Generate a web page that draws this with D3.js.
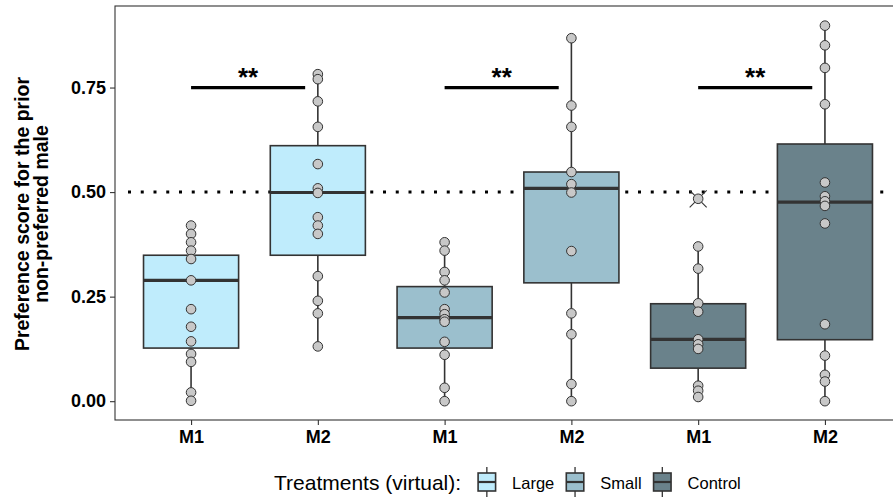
<!DOCTYPE html>
<html><head><meta charset="utf-8">
<script src="https://cdn.jsdelivr.net/npm/d3@7/dist/d3.min.js"></script>
<style>body{margin:0;background:#fff;overflow:hidden}svg{display:block}</style>
</head><body><svg id="c" width="893" height="497"></svg>
<script>
// ---- data ----
const treatments = ["Large", "Small", "Control"];
const males = ["M1", "M2"];
const fills = ["#bfecfc", "#9bbfcd", "#6a828b"];
const categories = ["Large-M1","Large-M2","Small-M1","Small-M2","Control-M1","Control-M2"];
const tickLabels = ["M1","M2","M1","M2","M1","M2"];
const q1 =       [0.127, 0.349, 0.127, 0.283, 0.079, 0.147];
const medians =  [0.289, 0.499, 0.200, 0.509, 0.148, 0.476];
const q3 =       [0.349, 0.611, 0.274, 0.548, 0.233, 0.615];
const whiskLo =  [0.000, 0.131, 0.000, 0.000, 0.010, 0.000];
const whiskHi =  [0.420, 0.782, 0.380, 0.868, 0.370, 0.898];
const outliers = [[], [], [], [], [0.484], []];
const pointsLargeM1 = [0.42, 0.40, 0.38, 0.36, 0.34, 0.289, 0.22, 0.178, 0.143, 0.113, 0.094, 0.021, 0.001];
const pointsLargeM2 = [0.782, 0.770, 0.717, 0.656, 0.567, 0.509, 0.498, 0.440, 0.420, 0.400, 0.299, 0.240, 0.210, 0.131];
const pointsSmallM1 = [0.38, 0.36, 0.309, 0.289, 0.26, 0.22, 0.208, 0.196, 0.19, 0.142, 0.111, 0.032, 0.0];
const pointsSmallM2 = [0.868, 0.707, 0.656, 0.548, 0.519, 0.499, 0.359, 0.21, 0.16, 0.041, 0.0];
const pointsControlM1 = [0.484, 0.37, 0.317, 0.234, 0.214, 0.148, 0.136, 0.125, 0.037, 0.025, 0.01];
const pointsControlM2 = [0.898, 0.851, 0.797, 0.71, 0.523, 0.49, 0.478, 0.467, 0.425, 0.184, 0.109, 0.063, 0.047, 0.0];
const points = [pointsLargeM1, pointsLargeM2, pointsSmallM1, pointsSmallM2, pointsControlM1, pointsControlM2];
const yTicks = [0, 0.25, 0.5, 0.75];
const yTickLabels = ["0.00", "0.25", "0.50", "0.75"];
const refLine = 0.5;
const sigY = 0.75;
const sigLabel = "**";
const yTitle = ["Preference score for the prior", "non-preferred male"];
const legendTitle = "Treatments (virtual):";

// ---- layout ----
const FONT = "'Liberation Sans', Arial, sans-serif";
const svg = d3.select("#c");
const pl = 115, pr = 901, pt = 6, pb = 420;
const x = d3.scalePoint().domain(categories).range([pl, pr]).padding(0.6);
const step = x.step();
const y = d3.scaleLinear().domain([-0.045, 0.945]).range([pb, pt]);
const boxW = step * 0.75;
const ink = "#333333";

svg.append("defs").append("clipPath").attr("id","clip")
  .append("rect").attr("x", pl).attr("y", pt).attr("width", pr - pl).attr("height", pb - pt);

const g = svg.append("g").attr("clip-path", "url(#clip)");

// reference line (dotted)
g.append("line")
  .attr("x1", pl + 13).attr("x2", pr)
  .attr("y1", y(refLine)).attr("y2", y(refLine))
  .attr("stroke", "#000").attr("stroke-width", 3)
  .attr("stroke-dasharray", "3,9.75");

// boxes
categories.forEach((c, i) => {
  const cx = x(c);
  const fill = fills[Math.floor(i / 2)];
  g.append("line").attr("x1", cx).attr("x2", cx).attr("y1", y(q3[i])).attr("y2", y(whiskHi[i]))
    .attr("stroke", ink).attr("stroke-width", 1.6);
  g.append("line").attr("x1", cx).attr("x2", cx).attr("y1", y(q1[i])).attr("y2", y(whiskLo[i]))
    .attr("stroke", ink).attr("stroke-width", 1.6);
  g.append("rect").attr("x", cx - boxW / 2).attr("width", boxW)
    .attr("y", y(q3[i])).attr("height", y(q1[i]) - y(q3[i]))
    .attr("fill", fill).attr("stroke", ink).attr("stroke-width", 1.6);
  g.append("line").attr("x1", cx - boxW / 2).attr("x2", cx + boxW / 2)
    .attr("y1", y(medians[i])).attr("y2", y(medians[i]))
    .attr("stroke", ink).attr("stroke-width", 3.2);
  outliers[i].forEach(v => {
    const s = 8.5;
    g.append("path").attr("d", `M${cx - s},${y(v) - s}L${cx + s},${y(v) + s}M${cx - s},${y(v) + s}L${cx + s},${y(v) - s}`)
      .attr("stroke", ink).attr("stroke-width", 1.1).attr("fill", "none");
  });
});

// points
categories.forEach((c, i) => {
  g.selectAll(null).data(points[i]).enter().append("circle")
    .attr("cx", x(c)).attr("cy", d => y(d)).attr("r", 4.8)
    .attr("fill", "#c8c8c8").attr("stroke", ink).attr("stroke-width", 1);
});

// significance bars
treatments.forEach((t, k) => {
  const x1 = x(categories[2 * k]);
  const x2 = x1 + step * 0.9;
  g.append("line").attr("x1", x1).attr("x2", x2).attr("y1", y(sigY)).attr("y2", y(sigY))
    .attr("stroke", "#000").attr("stroke-width", 3.2);
  g.append("text").attr("x", (x1 + x2) / 2).attr("y", y(sigY) - 2)
    .attr("text-anchor", "middle").attr("font-family", FONT).attr("font-weight", "bold")
    .attr("font-size", 26).attr("fill", "#000").text(sigLabel);
});

// panel border
svg.append("rect").attr("x", pl).attr("y", pt).attr("width", pr - pl).attr("height", pb - pt)
  .attr("fill", "none").attr("stroke", ink).attr("stroke-width", 1.1);

// y axis
const yAxis = svg.append("g").attr("transform", `translate(${pl},0)`)
  .call(d3.axisLeft(y).tickValues(yTicks).tickFormat((d, i) => yTickLabels[i]).tickSize(5).tickPadding(4));
yAxis.select(".domain").remove();
yAxis.selectAll(".tick line").attr("stroke", ink).attr("stroke-width", 1.1);
yAxis.selectAll(".tick text").attr("font-family", FONT).attr("font-weight", "bold")
  .attr("font-size", 18).attr("fill", "#000");

// x axis
const xAxis = svg.append("g").attr("transform", `translate(0,${pb})`)
  .call(d3.axisBottom(x).tickFormat((d, i) => tickLabels[i]).tickSize(5).tickPadding(5));
xAxis.select(".domain").remove();
xAxis.selectAll(".tick line").attr("stroke", ink).attr("stroke-width", 1.1);
xAxis.selectAll(".tick text").attr("font-family", FONT).attr("font-weight", "bold")
  .attr("font-size", 18).attr("fill", "#000");

// y title
const ty = svg.append("text").attr("transform", `translate(29,${(pt + pb) / 2 + 1}) rotate(-90)`)
  .attr("text-anchor", "middle").attr("font-family", FONT).attr("font-weight", "bold")
  .attr("font-size", 19.5).attr("fill", "#000");
yTitle.forEach((l, i) => ty.append("tspan").attr("x", 0).attr("dy", i === 0 ? 0 : 18.5).text(l));

// legend
const lg = svg.append("g").attr("font-family", FONT).attr("fill", "#000");
const base = 490;
const titleEl = lg.append("text").attr("x", 274).attr("y", base).attr("font-size", 21).text(legendTitle);
let cursor = 274 + titleEl.node().getComputedTextLength() + 17;
treatments.forEach((t, k) => {
  const kw = 17.5, cx = cursor + kw / 2;
  lg.append("line").attr("x1", cx).attr("x2", cx).attr("y1", 467).attr("y2", 497).attr("stroke", ink).attr("stroke-width", 1.3);
  lg.append("rect").attr("x", cursor).attr("y", 473).attr("width", kw).attr("height", 18)
    .attr("fill", fills[k]).attr("stroke", ink).attr("stroke-width", 1.6);
  lg.append("line").attr("x1", cursor).attr("x2", cursor + kw).attr("y1", 482).attr("y2", 482)
    .attr("stroke", ink).attr("stroke-width", 2.2);
  const lab = lg.append("text").attr("x", cursor + kw + 16.5).attr("y", base - 1).attr("font-size", 16.5).text(t);
  cursor = cursor + kw + 16.5 + lab.node().getComputedTextLength() + 12;
});
</script></body></html>
